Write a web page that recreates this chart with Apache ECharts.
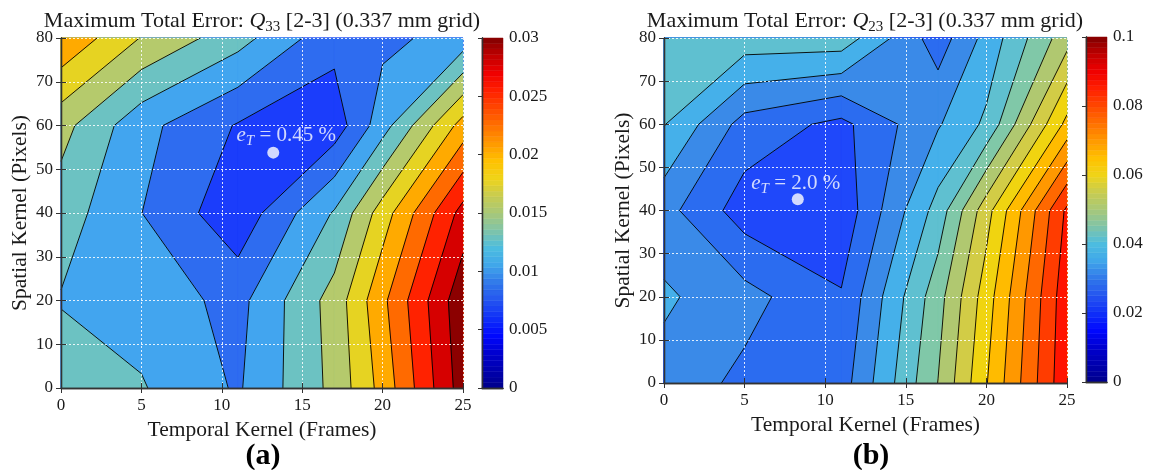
<!DOCTYPE html>
<html><head><meta charset="utf-8">
<script src="https://cdn.jsdelivr.net/npm/echarts@6/dist/echarts.min.js"></script>
<style>html,body{margin:0;padding:0;background:#fff}#c{width:1150px;height:470px}</style>
</head><body><div id="c"></div>
<script>
// ---------------- data ----------------
const temporalKernel = [0, 5, 11, 17, 20, 25];      // x grid (Frames)
const spatialKernel  = [0, 20, 40, 60, 80];         // y grid (Pixels)
// rows = spatialKernel, cols = temporalKernel
const errorQ33 = [
  [0.01158, 0.01020, 0.00720, 0.01320, 0.01840, 0.02875],
  [0.00983, 0.00898, 0.00670, 0.01353, 0.01943, 0.02930],
  [0.01123, 0.00753, 0.00325, 0.01025, 0.01625, 0.02595],
  [0.01338, 0.00828, 0.00480, 0.00358, 0.00893, 0.01855],
  [0.01963, 0.01488, 0.01098, 0.00578, 0.00688, 0.00848]
];
const errorQ23 = [
  [0.03315, 0.02873, 0.02765, 0.05010, 0.06470, 0.08895],
  [0.03580, 0.03180, 0.02540, 0.04800, 0.06260, 0.08835],
  [0.03180, 0.02250, 0.02150, 0.04200, 0.05800, 0.08600],
  [0.04025, 0.02805, 0.02365, 0.03450, 0.04100, 0.06650],
  [0.04350, 0.04290, 0.04295, 0.02735, 0.03665, 0.05295]
];
const levelsQ33 = [0.0025, 0.005, 0.0075, 0.01, 0.0125, 0.015, 0.0175, 0.02, 0.0225, 0.025, 0.0275];
const levelsQ23 = [0.005, 0.01, 0.015, 0.02, 0.025, 0.03, 0.035, 0.04, 0.045, 0.05, 0.055, 0.06, 0.065, 0.07, 0.075, 0.08, 0.085, 0.09, 0.095];
const colorbarMaxQ33 = 0.03, colorbarStepQ33 = 0.005;
const colorbarMaxQ23 = 0.1,  colorbarStepQ23 = 0.02;
const minPointQ33 = [13.2, 53.8], minTextQ33 = '0.45 %';
const minPointQ23 = [8.3, 42.6],  minTextQ23 = '2.0 %';
const titleQ33 = ['Maximum Total Error: ', 'Q', '33', ' [2-3] (0.337 mm grid)'];
const titleQ23 = ['Maximum Total Error: ', 'Q', '23', ' [2-3] (0.337 mm grid)'];
const xName = 'Temporal Kernel (Frames)', yName = 'Spatial Kernel (Pixels)';

// ---------------- styles ----------------
const bandColorsQ33 = ['#0a1ee6','#1b3dfb','#2e6cf0','#42a5ef','#6cc2c2','#b5ca6c','#e6d322','#ffaa00','#ff6a00','#ff2200','#d60000','#8c0000'];
const bandColorsQ23 = ['#00008f','#0000c0','#0000f0','#0a28ff','#1f48fa','#2b6cf0','#3a8ae8','#45b0ea','#5fc0d0','#80c8a8','#b0c870','#d2cc46','#f0d410','#ffbb00','#ff9800','#ff6800','#ff3c00','#ff1400','#e00000','#a00000'];
const cmapStops = [[0,'#00008c'],[0.1,'#0000d0'],[0.15,'#0008ff'],[0.2,'#1030f8'],[0.25,'#2454f0'],[0.3,'#3078ea'],[0.35,'#40a6ea'],[0.4,'#4cbde0'],[0.45,'#80c4a8'],[0.5,'#a8c878'],[0.55,'#c8cc50'],[0.6,'#f0d418'],[0.65,'#ffc000'],[0.7,'#ff9800'],[0.75,'#ff7000'],[0.8,'#ff4800'],[0.85,'#ff2000'],[0.9,'#f00000'],[0.95,'#c00000'],[1,'#800000']];
const serif = "'Liberation Serif', 'DejaVu Serif', serif";
const ink = '#1a1a1a', boxColor = '#333333';

function hex2rgb(h){return [parseInt(h.substr(1,2),16),parseInt(h.substr(3,2),16),parseInt(h.substr(5,2),16)];}
function cmap(f){
  for (let i=1;i<cmapStops.length;i++){
    if (f<=cmapStops[i][0]){
      const a=cmapStops[i-1], b=cmapStops[i]; const t=(f-a[0])/(b[0]-a[0]);
      const ca=hex2rgb(a[1]), cb=hex2rgb(b[1]);
      return 'rgb('+ca.map((v,k)=>Math.round(v+(cb[k]-v)*t)).join(',')+')';
    }
  }
  return cmapStops[cmapStops.length-1][1];
}

// ---------------- contour geometry (marching squares via polygon clipping) ----------------
function clipAbove(poly, L){
  const out=[]; const n=poly.length;
  for (let i=0;i<n;i++){
    const cur=poly[i], prev=poly[(i+n-1)%n];
    const ci=cur[2]>=L, pi=prev[2]>=L;
    if (ci!==pi){
      const t=(L-prev[2])/(cur[2]-prev[2]);
      out.push([prev[0]+t*(cur[0]-prev[0]), prev[1]+t*(cur[1]-prev[1]), L, true]);
    }
    if (ci) out.push(cur);
  }
  return out;
}
function buildContours(xs, ys, Z, levels, colors){
  const fills=[], lines=[];
  for (let k=0;k<=levels.length;k++){
    for (let j=0;j<ys.length-1;j++) for (let i=0;i<xs.length-1;i++){
      const quad=[[xs[i],ys[j],Z[j][i]],[xs[i+1],ys[j],Z[j][i+1]],[xs[i+1],ys[j+1],Z[j+1][i+1]],[xs[i],ys[j+1],Z[j+1][i]]];
      if (k===0){ fills.push({pts:quad,color:colors[0]}); continue; }
      const poly=clipAbove(quad, levels[k-1]);
      if (poly.length<3) continue;
      fills.push({pts:poly,color:colors[k]});
      for (let m=0;m<poly.length;m++){
        const a=poly[m], b=poly[(m+1)%poly.length];
        if (a[3]&&b[3]) lines.push([a,b]);
      }
    }
  }
  return {fills, lines};
}
const contA = buildContours(temporalKernel, spatialKernel, errorQ33, levelsQ33, bandColorsQ33);
const contB = buildContours(temporalKernel, spatialKernel, errorQ23, levelsQ23, bandColorsQ23);

function fillSeries(c, xi, yi){
  return {type:'custom', xAxisIndex:xi, yAxisIndex:yi, z:1, silent:true, animation:false,
    data: c.fills.map(p=>[p.pts[0][0], p.pts[0][1]]),
    renderItem:(params, api)=>{
      const p=c.fills[params.dataIndex];
      return {type:'polygon', shape:{points:p.pts.map(q=>api.coord([q[0],q[1]]))},
        style:{fill:p.color, stroke:p.color, lineWidth:0.7}};
    }};
}
function lineSeries(c, xi, yi){
  return {type:'custom', xAxisIndex:xi, yAxisIndex:yi, z:2, silent:true, animation:false,
    data: c.lines.map(s=>[s[0][0], s[0][1]]),
    renderItem:(params, api)=>{
      const s=c.lines[params.dataIndex];
      const a=api.coord([s[0][0],s[0][1]]), b=api.coord([s[1][0],s[1][1]]);
      return {type:'line', shape:{x1:a[0],y1:a[1],x2:b[0],y2:b[1]}, style:{stroke:'#000', lineWidth:0.9}};
    }};
}
function colorbarSeries(max, xi, yi){
  const steps=[]; for (let s=0;s<64;s++) steps.push([s*max/64, (s+1)*max/64]);
  return {type:'custom', xAxisIndex:xi, yAxisIndex:yi, z:1, silent:true, animation:false,
    data: steps,
    renderItem:(params, api)=>{
      const st=steps[params.dataIndex];
      const p0=api.coord([0, st[0]]), p1=api.coord([1, st[1]]);
      const col=cmap((params.dataIndex+0.5)/64);
      return {type:'rect', shape:{x:p0[0], y:p1[1], width:p1[0]-p0[0], height:p0[1]-p1[1]},
        style:{fill:col, stroke:col, lineWidth:0.5}};
    }};
}
function dotSeries(pt, txt, xi, yi, off){
  return {type:'scatter', xAxisIndex:xi, yAxisIndex:yi, z:10, silent:true, animation:false,
    symbolSize:12, itemStyle:{color:'#fff'},
    data:[pt],
    label:{show:true, position:'inside', offset:off, color:'#fff',
      formatter:'{i|e}{s|T}{n| = '+txt+'}',
      rich:{i:{fontFamily:serif, fontStyle:'italic', fontSize:21, color:'#fff', lineHeight:26},
            s:{fontFamily:serif, fontStyle:'italic', fontSize:15, color:'#fff', lineHeight:15, verticalAlign:'bottom'},
            n:{fontFamily:serif, fontSize:21, color:'#fff', lineHeight:26}}}};
}

// ---------------- axes ----------------
const axLine = {show:true, lineStyle:{color:boxColor, width:1.3}};
const tickIn = {show:true, inside:true, length:5, lineStyle:{color:boxColor, width:1}};
const gridLine = {show:true, lineStyle:{color:'rgba(255,255,255,0.85)', width:1, type:[2,2]}};
const tickFont = {fontFamily:serif, fontSize:17, color:ink};
function plotAxes(gi){
  const xs=[
    {gridIndex:gi, type:'value', min:0, max:25, interval:5, position:'bottom', z:5,
     axisLine:axLine, axisTick:tickIn, splitLine:gridLine,
     axisLabel:Object.assign({margin:9}, tickFont),
     name:xName, nameLocation:'middle', nameGap:28, nameTextStyle:{fontFamily:serif, fontSize:21.5, color:ink}},
    {gridIndex:gi, type:'value', min:0, max:25, interval:5, position:'top', z:5,
     axisLine:axLine, axisTick:tickIn, splitLine:{show:false}, axisLabel:{show:false}}
  ];
  const ys=[
    {gridIndex:gi, type:'value', min:0, max:80, interval:10, position:'left', z:5,
     axisLine:axLine, axisTick:tickIn, splitLine:gridLine,
     axisLabel:Object.assign({margin:8}, tickFont),
     name:yName, nameLocation:'middle', nameGap:30, nameTextStyle:{fontFamily:serif, fontSize:21.5, color:ink}},
    {gridIndex:gi, type:'value', min:0, max:80, interval:10, position:'right', z:5,
     axisLine:axLine, axisTick:tickIn, splitLine:{show:false}, axisLabel:{show:false}}
  ];
  return {xs, ys};
}
function cbarAxes(gi, max, step){
  const xs=[
    {gridIndex:gi, type:'value', min:0, max:1, position:'bottom', z:5, axisLine:axLine, axisTick:{show:false}, axisLabel:{show:false}, splitLine:{show:false}},
    {gridIndex:gi, type:'value', min:0, max:1, position:'top', z:5, axisLine:axLine, axisTick:{show:false}, axisLabel:{show:false}, splitLine:{show:false}}
  ];
  const ys=[
    {gridIndex:gi, type:'value', min:0, max:max, interval:step, position:'right', z:5,
     axisLine:axLine, axisTick:{show:true, inside:true, length:4, lineStyle:{color:boxColor}}, splitLine:{show:false},
     axisLabel:Object.assign({margin:6}, tickFont)},
    {gridIndex:gi, type:'value', min:0, max:max, interval:step, position:'left', z:5,
     axisLine:axLine, axisTick:{show:false}, axisLabel:{show:false}, splitLine:{show:false}}
  ];
  return {xs, ys};
}
const pa=plotAxes(0), ca=cbarAxes(1, colorbarMaxQ33, colorbarStepQ33), pb=plotAxes(2), cb=cbarAxes(3, colorbarMaxQ23, colorbarStepQ23);

function titleText(parts, cx){
  return {type:'text', x:cx, y:21, z:20,
    style:{text:'{n|'+parts[0]+'}{q|'+parts[1]+'}{s|'+parts[2]+'}{n|'+parts[3]+'}',
      align:'center', verticalAlign:'middle',
      rich:{n:{fontFamily:serif, fontSize:22, fill:ink, lineHeight:27},
            q:{fontFamily:serif, fontStyle:'italic', fontSize:22, fill:ink, lineHeight:27},
            s:{fontFamily:serif, fontSize:15, fill:ink, lineHeight:15, verticalAlign:'bottom'}}}};
}

const option = {
  backgroundColor:'#fff',
  animation:false,
  grid:[
    {left:61, top:38, width:402, height:350},
    {left:482, top:38, width:21, height:350},
    {left:664, top:38, width:403, height:345},
    {left:1086, top:37, width:21, height:345}
  ],
  xAxis:[...pa.xs, ...ca.xs, ...pb.xs, ...cb.xs],
  yAxis:[...pa.ys, ...ca.ys, ...pb.ys, ...cb.ys],
  series:[
    fillSeries(contA, 0, 0), lineSeries(contA, 0, 0), dotSeries(minPointQ33, minTextQ33, 0, 0, [13,-17]),
    colorbarSeries(colorbarMaxQ33, 2, 2),
    fillSeries(contB, 4, 4), lineSeries(contB, 4, 4), dotSeries(minPointQ23, minTextQ23, 4, 4, [-2,-16]),
    colorbarSeries(colorbarMaxQ23, 6, 6)
  ],
  graphic:[
    titleText(titleQ33, 262),
    titleText(titleQ23, 865),
    {type:'text', x:263, y:456, style:{text:'(a)', fontFamily:serif, fontWeight:'bold', fontSize:30, fill:'#000', align:'center', verticalAlign:'middle'}},
    {type:'text', x:871, y:456, style:{text:'(b)', fontFamily:serif, fontWeight:'bold', fontSize:30, fill:'#000', align:'center', verticalAlign:'middle'}}
  ]
};
const chart = echarts.init(document.getElementById('c'), null, {renderer:'canvas'});
chart.setOption(option);
</script>
</body></html>
